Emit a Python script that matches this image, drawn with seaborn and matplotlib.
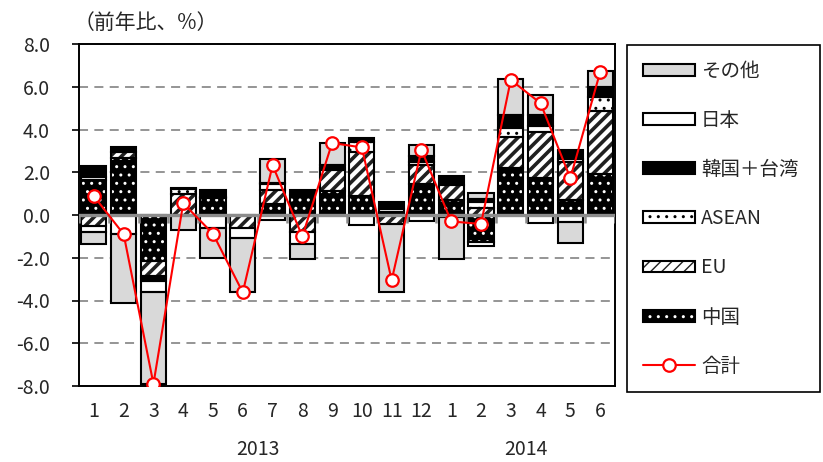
import numpy as np
import pandas as pd
import matplotlib
matplotlib.use("Agg")
import matplotlib.pyplot as plt
from matplotlib.patches import Patch, Rectangle
from matplotlib.lines import Line2D
from matplotlib.legend_handler import HandlerTuple
import seaborn as sns

# ---- data: contributions to export growth (year-on-year, %) ----
months = ["1", "2", "3", "4", "5", "6", "7", "8", "9", "10", "11", "12",
          "1", "2", "3", "4", "5", "6"]
years = ["2013"] * 12 + ["2014"] * 6

china = [1.64, 2.69, -2.15, 0.00, 0.80, 0.00, 0.50, 0.94, 1.10, 0.90, 0.12, 1.45,
         0.72, -1.25, 2.19, 1.75, 0.69, 1.91]
eu = [-0.52, 0.25, -0.72, 1.00, 0.00, -0.62, 0.65, -0.80, 1.00, 2.03, -0.42, 0.90,
      0.70, 0.35, 1.47, 2.11, 1.77, 2.97]
asean = [0.15, 0.00, -0.10, 0.20, 0.06, 0.00, 0.30, 0.00, 0.12, 0.50, 0.17, 0.12,
         0.00, 0.28, 0.41, 0.32, 0.15, 0.63]
korea_taiwan = [0.48, 0.26, -0.10, 0.08, 0.30, 0.00, 0.05, 0.22, 0.12, 0.15, 0.32, 0.30,
                0.40, 0.10, 0.61, 0.51, 0.43, 0.49]
japan = [-0.27, -0.90, -0.55, 0.00, -0.60, -0.47, -0.25, -0.57, 0.00, -0.45, 0.00, -0.30,
         -0.08, -0.20, 0.00, -0.36, -0.31, 0.00]
other = [-0.55, -3.22, -4.28, -0.72, -1.43, -2.50, 1.10, -0.67, 1.05, 0.00, -3.18, 0.50,
         -1.97, 0.32, 1.69, 0.93, -0.99, 0.76]
total = [0.88, -0.90, -7.90, 0.55, -0.88, -3.62, 2.33, -1.00, 3.37, 3.16, -3.05, 3.05,
         -0.30, -0.42, 6.32, 5.23, 1.72, 6.68]

y_ticks = [-8, -6, -4, -2, 0, 2, 4, 6, 8]

# ---- styling ----
sns.set_theme(style="white")
plt.rcParams["font.family"] = ["Noto Sans CJK JP", "DejaVu Sans"]
plt.rcParams["axes.unicode_minus"] = False

# stacking order from the zero line outward, with fill / hatch / hatch colour
series = [
    ("中国", china, dict(face="black", hatch="..", hc="white", hlw=1.0)),
    ("EU", eu, dict(face="white", hatch="///", hc="#202020", hlw=2.6)),
    ("ASEAN", asean, dict(face="white", hatch="..", hc="black", hlw=1.0)),
    ("韓国＋台湾", korea_taiwan, dict(face="black", hatch=None, hc="black", hlw=1.0)),
    ("日本", japan, dict(face="white", hatch=None, hc="black", hlw=1.0)),
    ("その他", other, dict(face="#d9d9d9", hatch=None, hc="black", hlw=1.0)),
]

W, H = 823, 462
fig = plt.figure(figsize=(W / 100, H / 100), dpi=100)
ax = fig.add_axes([79 / W, 1 - 386 / H, 536 / W, 342 / H])

n = len(months)
x = np.arange(n)
edge_lw = 1.5
pos_base = np.zeros(n)
neg_base = np.zeros(n)

for name, vals, st in series:
    v = np.asarray(vals, dtype=float)
    bottom = np.where(v >= 0, pos_base, neg_base)
    df = pd.DataFrame({"pos": x, "val": v})
    with plt.rc_context({"hatch.linewidth": st["hlw"]}):
        sns.barplot(data=df, x="pos", y="val", bottom=bottom, width=0.84,
                    color=st["face"], saturation=1, errorbar=None, ax=ax,
                    linewidth=0, zorder=2)
        cont = ax.containers[-1]
        for rect, val in zip(cont.patches, v):
            rect.set_facecolor(st["face"])
            rect.set_edgecolor(st["hc"])
            rect.set_linewidth(0)
            if st["hatch"]:
                rect.set_hatch(st["hatch"])
                if hasattr(rect, "set_hatch_linewidth"):
                    rect.set_hatch_linewidth(st["hlw"])
            if val != 0:
                ax.add_patch(Rectangle(rect.get_xy(), rect.get_width(), rect.get_height(),
                                       fill=False, edgecolor="black", linewidth=edge_lw,
                                       zorder=2.1))
    pos_base += np.where(v > 0, v, 0)
    neg_base += np.where(v < 0, v, 0)

# zero line with category tick marks
ax.axhline(0, color="#8c8c8c", linewidth=2.4, zorder=3)
ax.vlines(np.arange(n + 1) - 0.5, 0, -0.38, color="#8c8c8c", linewidth=1.8, zorder=3)

# total line
sns.lineplot(x=x, y=total, ax=ax, color="red", linewidth=1.5, marker="o",
             markersize=9, markerfacecolor="white", markeredgecolor="red",
             markeredgewidth=1.6, zorder=4)

# axes
ax.set_xlim(-0.5, n - 0.5)
ax.set_ylim(-8, 8)
ax.set_yticks(y_ticks)
ax.set_yticklabels([f"{t:.1f}" for t in y_ticks])
ax.set_xticks(x)
ax.set_xticklabels(months)
ax.set_xlabel("")
ax.set_ylabel("")
ax.tick_params(axis="y", direction="out", length=5, width=1.2, color="black",
               labelsize=14, pad=16, left=True)
ax.tick_params(axis="x", length=0, labelsize=14, pad=11)
for sp in ax.spines.values():
    sp.set_visible(True)
    sp.set_color("black")
    sp.set_linewidth(1.4)

ax.set_axisbelow(True)
ax.yaxis.grid(True, color="#8c8c8c", linewidth=1.3, linestyle=(0, (5, 3.5)))
ax.xaxis.grid(False)

# year labels under each group of months
yr_arr = np.array(years)
for yr in dict.fromkeys(years):
    cx = x[yr_arr == yr].mean()
    ax.annotate(yr, xy=(cx, 0), xycoords=("data", "axes fraction"),
                xytext=(0, -45.5), textcoords="offset points",
                ha="center", va="center", fontsize=14)

ax.annotate("（前年比、%）", xy=(0, 1), xycoords="axes fraction",
            xytext=(-4, 7), textcoords="offset points",
            ha="left", va="bottom", fontsize=15)

# legend
handles = []
labels = []
for name, vals, st in reversed(series):
    with plt.rc_context({"hatch.linewidth": st["hlw"]}):
        hp = Patch(facecolor=st["face"], edgecolor=st["hc"], hatch=st["hatch"], linewidth=0)
    op = Patch(fill=False, edgecolor="black", linewidth=edge_lw)
    handles.append((hp, op))
    labels.append(name)
handles.append(Line2D([], [], color="red", linewidth=1.5, marker="o", markersize=9,
                      markerfacecolor="white", markeredgecolor="red",
                      markeredgewidth=1.6))
labels.append("合計")

leg = fig.legend(handles, labels, loc="upper left",
                 bbox_to_anchor=(627 / W, 1 - 45 / H, (820 - 627) / W, 0),
                 bbox_transform=fig.transFigure, mode="expand",
                 handler_map={tuple: HandlerTuple(ndivide=1, pad=0)},
                 fontsize=14, handlelength=2.7, handleheight=0.55,
                 handletextpad=0.3, labelspacing=1.45, borderpad=0.8,
                 borderaxespad=0, fancybox=False, framealpha=1, numpoints=1)
leg.get_frame().set_edgecolor("black")
leg.get_frame().set_linewidth(1.2)

fig.savefig("out.png", dpi=100)
